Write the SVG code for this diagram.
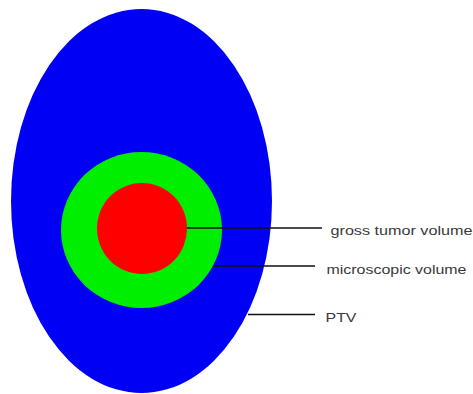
<svg xmlns="http://www.w3.org/2000/svg" width="473" height="394" viewBox="0 0 473 394">
<style>
.lbl{font-family:"Liberation Sans",Arial,sans-serif;font-size:13px;fill:#3a3a3a}
.conn{stroke:#111;stroke-width:1.5;fill:none}
</style>
<rect width="473" height="394" fill="#fff"/>
<g id="ptv"><ellipse cx="141.5" cy="201" rx="130.5" ry="192" fill="#0000f4"/></g>
<g id="microscopic-volume"><ellipse cx="141.5" cy="230" rx="80.5" ry="78" fill="#00ee00"/></g>
<g id="gross-tumor-volume"><ellipse cx="142" cy="228.5" rx="45" ry="45.5" fill="#ff0000"/></g>
<g id="connectors">
<line class="conn" x1="187" y1="228" x2="322" y2="228"/>
<line class="conn" x1="213" y1="266" x2="315" y2="266"/>
<line class="conn" x1="248" y1="314.5" x2="315" y2="314.5"/>
</g>
<g id="labels">
<text class="lbl" x="330.5" y="235" textLength="142" lengthAdjust="spacingAndGlyphs">gross tumor volume</text>
<text class="lbl" x="326.5" y="273.5" textLength="140" lengthAdjust="spacingAndGlyphs">microscopic volume</text>
<text class="lbl" x="325.5" y="322" textLength="31" lengthAdjust="spacingAndGlyphs">PTV</text>
</g>
</svg>
